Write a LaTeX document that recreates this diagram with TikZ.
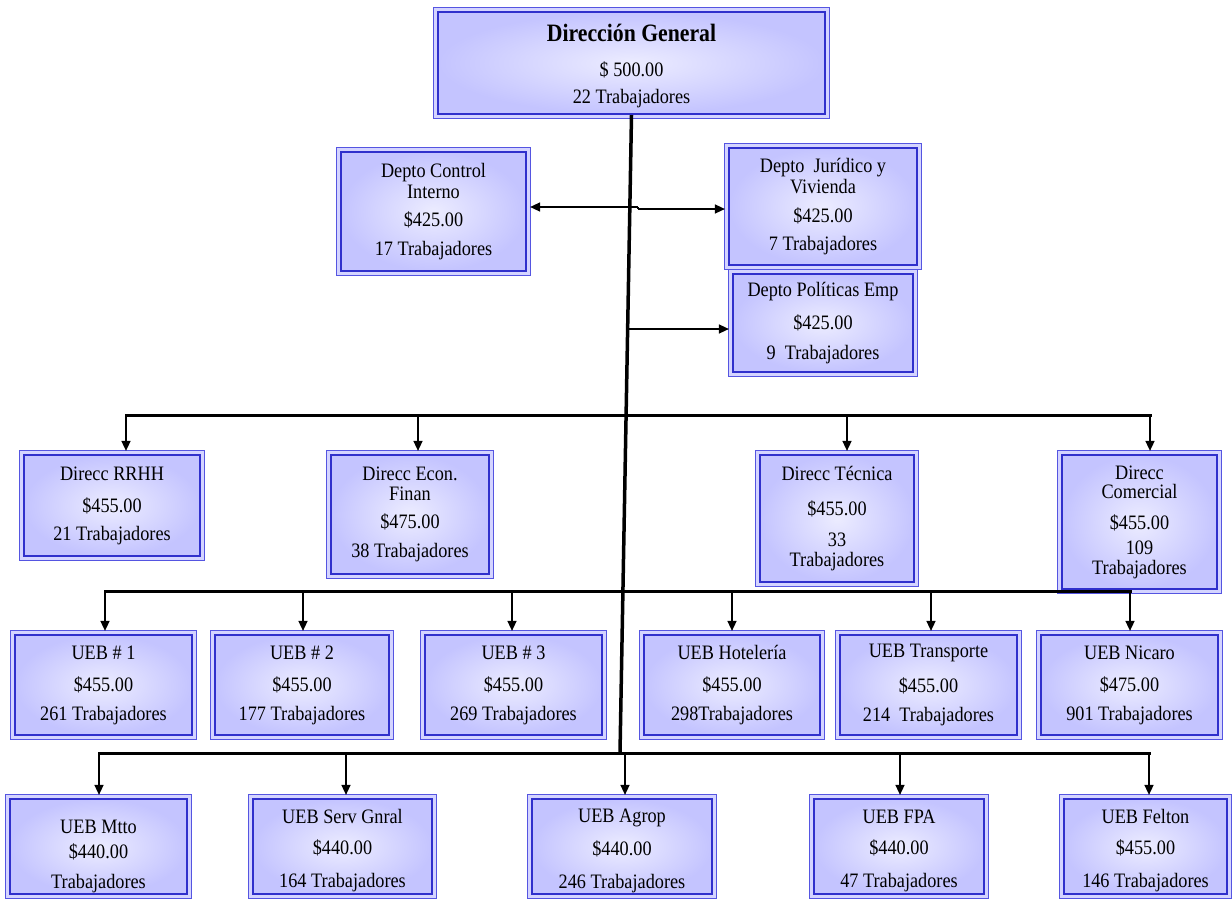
\documentclass[tikz,border=0pt]{standalone}
\usepackage{fontspec}
\setmainfont{Liberation Serif}[FakeStretch=0.89]
\newfontfamily\titlefont{Liberation Serif}[FakeStretch=0.87]
\usetikzlibrary{arrows.meta,backgrounds}
\definecolor{boxin}{RGB}{236,236,255}
\definecolor{boxout}{RGB}{196,196,255}
\definecolor{boxline}{RGB}{48,48,204}
\definecolor{boxline2}{RGB}{85,85,225}
\definecolor{boxgap}{RGB}{212,212,255}
\tikzset{
  orgbox/.style={rectangle, draw=boxline, line width=2.2pt, shade, inner color=boxin, outer color=boxout,
    align=center, inner sep=0pt, font=\fontsize{20.5}{17.5}\selectfont},
  outerbox/.style={draw=boxline2, line width=1pt, fill=boxgap},
  bus/.style={line width=3pt, line cap=rect},
  trunk/.style={line width=3.5pt},
  drop/.style={line width=1.5pt, -{Triangle[length=10pt,width=9pt]}, shorten >=3pt},
}
\begin{document}
\begin{tikzpicture}[x=1pt,y=-1pt]
\useasboundingbox (0,0) rectangle (1232,899);
% boxes
\node[orgbox, minimum width=387pt, minimum height=102pt] (DG) at (631.5,63)
  {\rule{0pt}{23pt}{\titlefont\bfseries\fontsize{25}{24}\selectfont Dirección General}\\[18pt]\$ 500.00\\[9.5pt]22 Trabajadores};
\node[orgbox, minimum width=185pt, minimum height=119pt] (CI) at (433.5,211.5)
  {Depto Control\\[2pt]Interno\\[11pt]\$425.00\\[11pt]17 Trabajadores};
\node[orgbox, minimum width=188pt, minimum height=117pt] (JV) at (823,206.5)
  {Depto\ \ Jurídico y\\[2pt]Vivienda\\[11pt]\$425.00\\[11pt]7 Trabajadores};
\node[orgbox, minimum width=180pt, minimum height=98pt] (PE) at (823,323)
  {Depto Políticas Emp\\[13pt]\$425.00\\[13pt]9\ \ Trabajadores};
\node[orgbox, minimum width=176pt, minimum height=101pt] (RH) at (112,505.5)
  {Direcc RRHH\\[15pt]\$455.00\\[10pt]21 Trabajadores};
\node[orgbox, minimum width=158pt, minimum height=119pt] (EF) at (410,514.5)
  {Direcc Econ.\\[2pt]Finan\\[11pt]\$475.00\\[11pt]38 Trabajadores};
\node[orgbox, minimum width=154pt, minimum height=127pt] (DT) at (837,518.5)
  {Direcc Técnica\\[17pt]\$455.00\\[14pt]33\\[2pt]Trabajadores};
\node[orgbox, minimum width=155pt, minimum height=134pt] (DC) at (1139.5,522)
  {Direcc\\[2pt]Comercial\\[13pt]\$455.00\\[8pt]109\\[2pt]Trabajadores};
\node[orgbox, minimum width=177pt, minimum height=100pt] (U1) at (103.5,685)
  {UEB \# 1\\[15pt]\$455.00\\[11pt]261 Trabajadores};
\node[orgbox, minimum width=174pt, minimum height=100pt] (U2) at (302,685)
  {UEB \# 2\\[15pt]\$455.00\\[11pt]177 Trabajadores};
\node[orgbox, minimum width=177pt, minimum height=100pt] (U3) at (513.5,685)
  {UEB \# 3\\[15pt]\$455.00\\[11pt]269 Trabajadores};
\node[orgbox, minimum width=176pt, minimum height=100pt] (UH) at (732,685)
  {UEB Hotelería\\[15pt]\$455.00\\[11pt]298Trabajadores};
\node[orgbox, minimum width=177pt, minimum height=100pt] (UT) at (928.5,685)
  {UEB Transporte\\[15pt]\$455.00\\[11pt]214\ \ Trabajadores};
\node[orgbox, minimum width=177pt, minimum height=100pt] (UN) at (1129.5,685)
  {UEB Nicaro\\[15pt]\$475.00\\[11pt]901 Trabajadores};
\node[orgbox, minimum width=177pt, minimum height=95pt] (BM) at (98.5,846.5)
  {\rule{0pt}{33pt}UEB Mtto\\[7.5pt]\$440.00\\[12.5pt]Trabajadores};
\node[orgbox, minimum width=179pt, minimum height=95pt] (BS) at (342.5,846.5)
  {\rule{0pt}{22.5pt}UEB Serv Gnral\\[13.5pt]\$440.00\\[15.5pt]164 Trabajadores};
\node[orgbox, minimum width=180pt, minimum height=95pt] (BA) at (622,846.5)
  {\rule{0pt}{22.5pt}UEB Agrop\\[13.5pt]\$440.00\\[15.5pt]246 Trabajadores};
\node[orgbox, minimum width=170pt, minimum height=95pt] (BF) at (899,846.5)
  {\rule{0pt}{22.5pt}UEB FPA\\[13.5pt]\$440.00\\[15.5pt]47 Trabajadores};
\node[orgbox, minimum width=163pt, minimum height=95pt] (BL) at (1145.5,846.5)
  {\rule{0pt}{22.5pt}UEB Felton\\[13.5pt]\$455.00\\[15.5pt]146 Trabajadores};
% outer thin frames
\begin{scope}[on background layer]
\foreach \n in {DG,CI,JV,PE,RH,EF,DT,DC,U1,U2,U3,UH,UT,UN,BM,BS,BA,BF,BL}
  \draw[outerbox] ([shift={(-3pt,-3pt)}]\n.south west) rectangle ([shift={(3pt,3pt)}]\n.north east);
\end{scope}
% bus coordinates
\coordinate (tb) at (620,753);
\coordinate (b1a) at (126,415); \coordinate (b1b) at (418,415);
\coordinate (b1c) at (847,415); \coordinate (b1d) at (1150,415);
\coordinate (b2a) at (105,591); \coordinate (b2b) at (303,591); \coordinate (b2c) at (512,591);
\coordinate (b2d) at (732,591); \coordinate (b2e) at (931,591); \coordinate (b2f) at (1130,591);
\coordinate (b3a) at (99,753); \coordinate (b3b) at (346,753); \coordinate (b3c) at (625,753);
\coordinate (b3d) at (900,753); \coordinate (b3e) at (1149,753);
\coordinate (j1) at (638,207); \coordinate (j1r) at (638,209);
\coordinate (j2) at (627,329);
% trunk and buses
\draw[trunk] (DG.south) -- (tb);
\draw[bus] (b1a) -- (b1d);
\draw[bus] (b2a) -- (b2f);
\draw[bus] (b3a) -- (b3e);
% drops
\foreach \c/\n in {b1a/RH,b1b/EF,b1c/DT,b1d/DC,b2a/U1,b2b/U2,b2c/U3,b2d/UH,b2e/UT,b2f/UN,b3a/BM,b3b/BS,b3c/BA,b3d/BF,b3e/BL}
  \draw[drop] (\c) -- (\c |- \n.north);
% side arrows
\draw[drop] (j1) -- (j1 -| CI.east);
\draw[line width=1.5pt] (j1) -- (j1r);
\draw[drop] (j1r) -- (j1r -| JV.west);
\draw[drop] (j2) -- (j2 -| PE.west);
\end{tikzpicture}
\end{document}
